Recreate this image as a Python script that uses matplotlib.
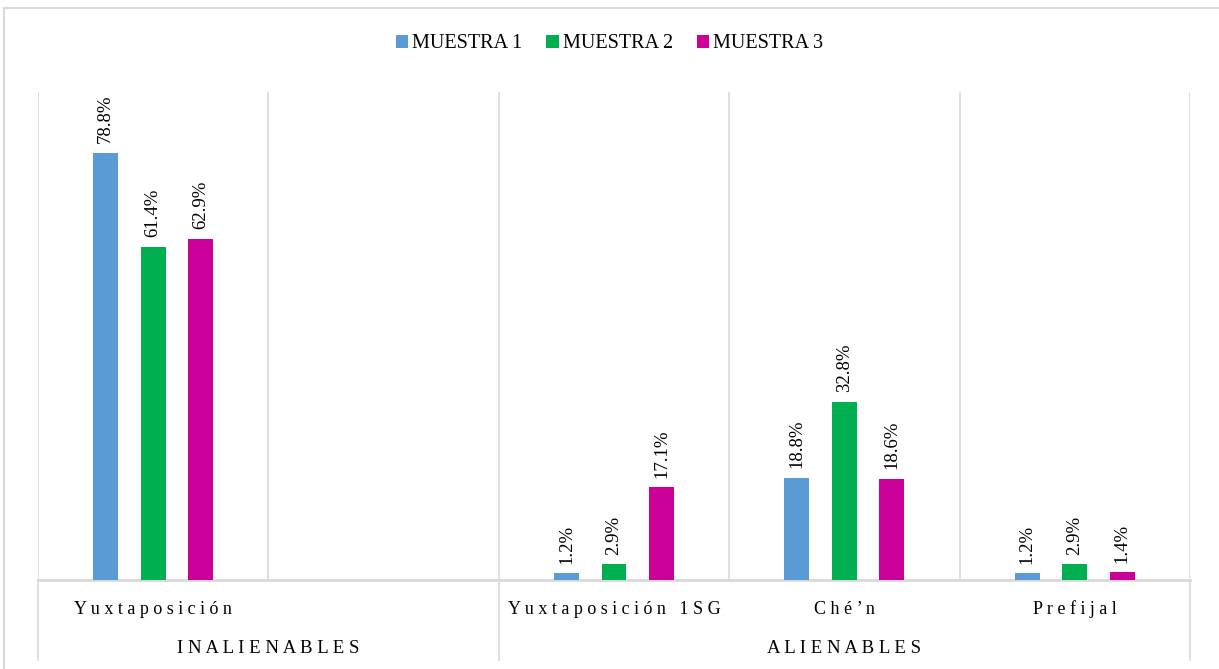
import numpy as np
import matplotlib
matplotlib.use("Agg")
from matplotlib import pyplot as plt
from matplotlib.patches import Rectangle
from matplotlib.transforms import blended_transform_factory

plt.rcParams["font.family"] = ["Liberation Serif", "DejaVu Serif"]

categories = ["Yuxtaposición", "", "Yuxtaposición 1SG", "Ché’n", "Prefijal"]
groups = ["INALIENABLES", "ALIENABLES"]
group_members = [[0, 1], [2, 3, 4]]
series_names = ["MUESTRA 1", "MUESTRA 2", "MUESTRA 3"]
muestra1 = [78.8, np.nan, 1.2, 18.8, 1.2]
muestra2 = [61.4, np.nan, 2.9, 32.8, 2.9]
muestra3 = [62.9, np.nan, 17.1, 18.6, 1.4]
colors = ["#5b9bd5", "#00b050", "#cc0099"]

grid_c = "#d9d9d9"


def spaced(s):
    return " ".join(s)


fig = plt.figure(figsize=(12.19, 6.69), dpi=100)
ax = fig.add_axes([38 / 1219, 1 - 580 / 669, (1190 - 38) / 1219, (580 - 92) / 669])

x = np.arange(len(categories))
w = 0.108
step = 0.206
for i, (vals, c, name) in enumerate(zip([muestra1, muestra2, muestra3], colors, series_names)):
    xs = x + (i - 1) * step
    ax.bar(xs, vals, w, color=c, label=name, zorder=3)
    for xi, v in zip(xs, vals):
        if np.isnan(v):
            continue
        ax.annotate(f"{v:.1f}%", (xi, v), xytext=(0, 7), textcoords="offset points",
                    rotation=90, ha="center", va="bottom", fontsize=13.5)

ax.set_xlim(-0.5, len(categories) - 0.5)
ax.set_ylim(0, 90)
ax.set_yticks([])
ax.set_xticks([])
for s in ["top", "right", "left"]:
    ax.spines[s].set_visible(False)
ax.spines["bottom"].set_color(grid_c)
ax.spines["bottom"].set_linewidth(2)

for b in np.arange(-0.5, len(categories), 1.0):
    ax.axvline(b, color=grid_c, lw=1.2, zorder=1)

# category and group separators below the axis
tr = blended_transform_factory(ax.transData, ax.transAxes)
seps = [group_members[0][0] - 0.5] + [g[-1] + 0.5 for g in group_members]
for b in seps:
    ax.plot([b, b], [0, -0.164], color=grid_c, lw=1.2, transform=tr, clip_on=False)

for xi, lab in zip(x, categories):
    ax.text(xi, -0.06, spaced(lab), transform=tr, ha="center", va="center", fontsize=13)

for g, members in zip(groups, group_members):
    ax.text(np.mean([members[0] - 0.5, members[-1] + 0.5]), -0.141, spaced(g),
            transform=tr, ha="center", va="center", fontsize=13.5)

leg = fig.legend(loc="center", bbox_to_anchor=(0.5, 1 - 44 / 669), ncol=3, frameon=False,
                 fontsize=14.5, handlelength=0.6, handleheight=0.6, handletextpad=0.2,
                 columnspacing=1.2)

fig.add_artist(Rectangle((4 / 1219, -0.05), 1.1, 1.05 - 8 / 669, transform=fig.transFigure,
                         fill=False, edgecolor=grid_c, lw=1.5))

fig.savefig("out.png", dpi=100)
